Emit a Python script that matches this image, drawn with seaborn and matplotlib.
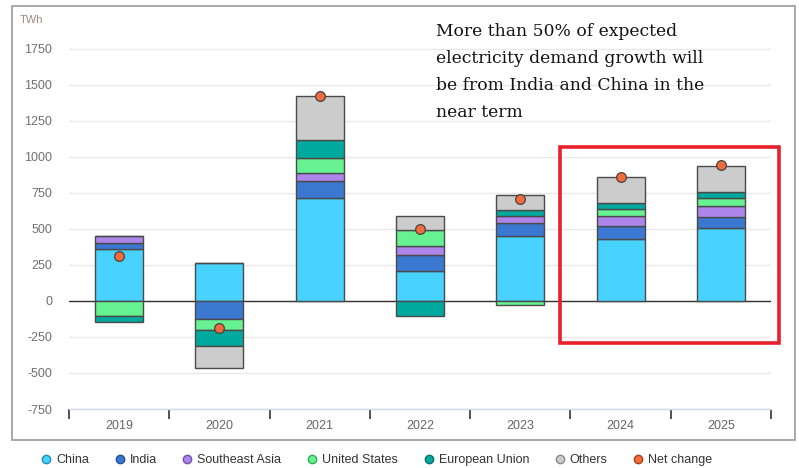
import numpy as np
import pandas as pd
import matplotlib
matplotlib.use("Agg")
import matplotlib.pyplot as plt
import seaborn as sns
from matplotlib.patches import Rectangle
from matplotlib.lines import Line2D

years = ["2019", "2020", "2021", "2022", "2023", "2024", "2025"]
china = [360, 266, 715, 206, 451, 428, 505]
india = [40, -127, 118, 113, 92, 90, 76]
se_asia = [50, 0, 53, 65, 47, 70, 76]
united_states = [-105, -74, 104, 109, -30, 53, 58]
european_union = [-40, -111, 125, -102, 39, 37, 41]
others = [0, -155, 308, 97, 104, 180, 183]
net_change = [315, -190, 1425, 498, 708, 862, 944]

series_names = ["China", "India", "Southeast Asia", "United States", "European Union", "Others"]
series_values = [china, india, se_asia, united_states, european_union, others]
colors = ["#48d2ff", "#3b78d2", "#ad85eb", "#66f291", "#00a99d", "#cccccc"]
edge_colors = ["#1f8fb8", "#1f4f99", "#7050b0", "#2fae5a", "#00756c", "#8a8a8a"]
net_color = "#f26b3a"
yticks = list(range(-750, 1751, 250))

sns.set_style("white")
plt.rcParams['font.family'] = ['Liberation Sans', 'DejaVu Sans']

fig = plt.figure(figsize=(7.99, 4.68), dpi=100)
ax = fig.add_axes([69/799, 1 - 409/468, (771-69)/799, (409-47.4)/468])

pos_base = np.zeros(len(years))
neg_base = np.zeros(len(years))
for name, vals, c in zip(series_names, series_values, colors):
    v = np.array(vals, dtype=float)
    bottom = np.where(v >= 0, pos_base, neg_base)
    df = pd.DataFrame({"year": years, "value": v})
    sns.barplot(data=df, x="year", y="value", order=years, bottom=bottom,
                color=c, saturation=1, width=0.48, errorbar=None,
                edgecolor="#4a4a4a", linewidth=1.0, ax=ax, zorder=3)
    pos_base += np.where(v > 0, v, 0)
    neg_base += np.where(v < 0, v, 0)

sns.stripplot(x=years, y=net_change, order=years, jitter=False, color=net_color,
              size=7, edgecolor="#444444", linewidth=0.9, ax=ax, zorder=6)

ax.axhline(0, color="#333333", lw=1.0, zorder=2.5)
ax.set_xlim(-0.5, len(years) - 0.5)
ax.set_ylim(-750, 1760)
ax.set_yticks(yticks)
ax.set_yticklabels([str(t) for t in yticks])
ax.yaxis.grid(True, color="#e8e8e8", lw=1)
ax.set_axisbelow(True)
for s in ["left", "right", "top"]:
    ax.spines[s].set_visible(False)
ax.spines["bottom"].set_color("#ccd6eb")
ax.spines["bottom"].set_linewidth(1.0)
ax.set_xlabel("")
ax.set_ylabel("")
ax.set_xticks(np.arange(-0.5, len(years)), minor=True)
ax.tick_params(axis="x", which="minor", bottom=True, length=7, width=1.2, color="#333333", direction="out")
ax.tick_params(axis="x", which="major", bottom=True, length=0, pad=8, labelcolor="#666666", labelsize=9)
ax.tick_params(axis="y", length=0, pad=12, labelcolor="#707070", labelsize=9)

# frame
fig.patches.append(Rectangle((12/799, 1 - 440/468), (795-12)/799, (440-6)/468,
                             transform=fig.transFigure, fill=False, ec="#999999", lw=1.2))
# highlight box
fig.patches.append(Rectangle((560/799, 1 - 343/468), (779-560)/799, (343-147)/468,
                             transform=fig.transFigure, fill=False, ec="#e8202a", lw=2.6, zorder=10))

fig.text(20/799, 1 - 20/468, "TWh", size=8, color="#9a8a80", va="center", ha="left")
fig.text(436/799, 1 - 23/468,
         "More than 50% of expected\nelectricity demand growth will\nbe from India and China in the\nnear term",
         va="top", ha="left", family="DejaVu Serif", size=12.3, linespacing=1.78, color="#111111")

handles = [Line2D([], [], marker="o", ls="", markerfacecolor=c, markeredgecolor=e, markersize=6, markeredgewidth=1)
           for c, e in zip(colors, edge_colors)]
handles.append(Line2D([], [], marker="o", ls="", markerfacecolor=net_color, markeredgecolor="#b0401a",
                      markersize=6, markeredgewidth=1))
labels = series_names + ["Net change"]
fig.legend(handles, labels, loc="center", bbox_to_anchor=(0.4706, 0.017), ncol=7, frameon=False,
           prop={"family": "Liberation Sans", "size": 9}, handletextpad=0.3, columnspacing=1.95,
           labelcolor="#333333", handlelength=1.0)

fig.savefig("out.png", dpi=100)
